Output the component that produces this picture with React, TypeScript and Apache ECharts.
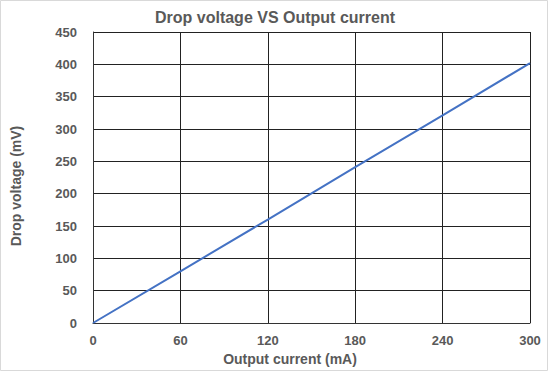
import React, { useEffect, useRef } from "react";
import * as echarts from "echarts";

const currents = [0, 60, 120, 180, 240, 300];
const dropVoltages = [0, 80, 160, 241, 321, 402];
const chartTitle = "Drop voltage VS Output current";
const xName = "Output current (mA)";
const yName = "Drop voltage (mV)";

export default function App() {
  const ref = useRef<HTMLDivElement>(null);
  useEffect(() => {
    if (!ref.current) return;
    const chart = echarts.init(ref.current, null, { renderer: "svg" });
    const txt = "#595959";
    const font = "Liberation Sans, Arial";
    chart.setOption({
      animation: false,
      backgroundColor: "#fff",
      title: {
        text: chartTitle,
        left: 150,
        top: 4,
        textStyle: { fontFamily: font, fontSize: 16, fontWeight: "bold", color: txt },
      },
      graphic: [
        {
          type: "rect",
          shape: { x: 0.5, y: 0.5, width: 547, height: 370 },
          style: { fill: "none", stroke: "#d9d9d9", lineWidth: 1 },
          silent: true,
        },
      ],
      grid: { left: 93, right: 19, top: 32, bottom: 49 },
      xAxis: {
        type: "value",
        min: 0,
        max: 300,
        interval: 60,
        name: xName,
        nameLocation: "middle",
        nameGap: 26,
        nameTextStyle: { fontFamily: font, fontSize: 14, fontWeight: "bold", color: txt, padding: [0, 43, 0, 0] },
        axisLine: { show: true, lineStyle: { color: "#333", width: 1 } },
        axisTick: { show: false },
        axisLabel: { fontFamily: font, fontSize: 13, fontWeight: "bold", color: txt, margin: 11 },
        splitLine: { show: true, lineStyle: { color: "#222", width: 1 } },
      },
      yAxis: {
        type: "value",
        min: 0,
        max: 450,
        interval: 50,
        name: yName,
        nameLocation: "middle",
        nameGap: 70,
        nameRotate: 90,
        nameTextStyle: { fontFamily: font, fontSize: 14, fontWeight: "bold", color: txt, padding: [0, 17, 0, 0] },
        axisLine: { show: true, lineStyle: { color: "#333", width: 1 } },
        axisTick: { show: false },
        axisLabel: { fontFamily: font, fontSize: 13, fontWeight: "bold", color: txt, margin: 16 },
        splitLine: { show: true, lineStyle: { color: "#222", width: 1 } },
      },
      series: [
        {
          type: "line",
          data: currents.map((c, i) => [c, dropVoltages[i]]),
          showSymbol: false,
          lineStyle: { color: "#4472c4", width: 2 },
        },
      ],
    });
    return () => chart.dispose();
  }, []);
  return (
    <div
      ref={ref}
      style={{ position: "absolute", left: 0, top: 0, width: 549, height: 372 }}
    />
  );
}
